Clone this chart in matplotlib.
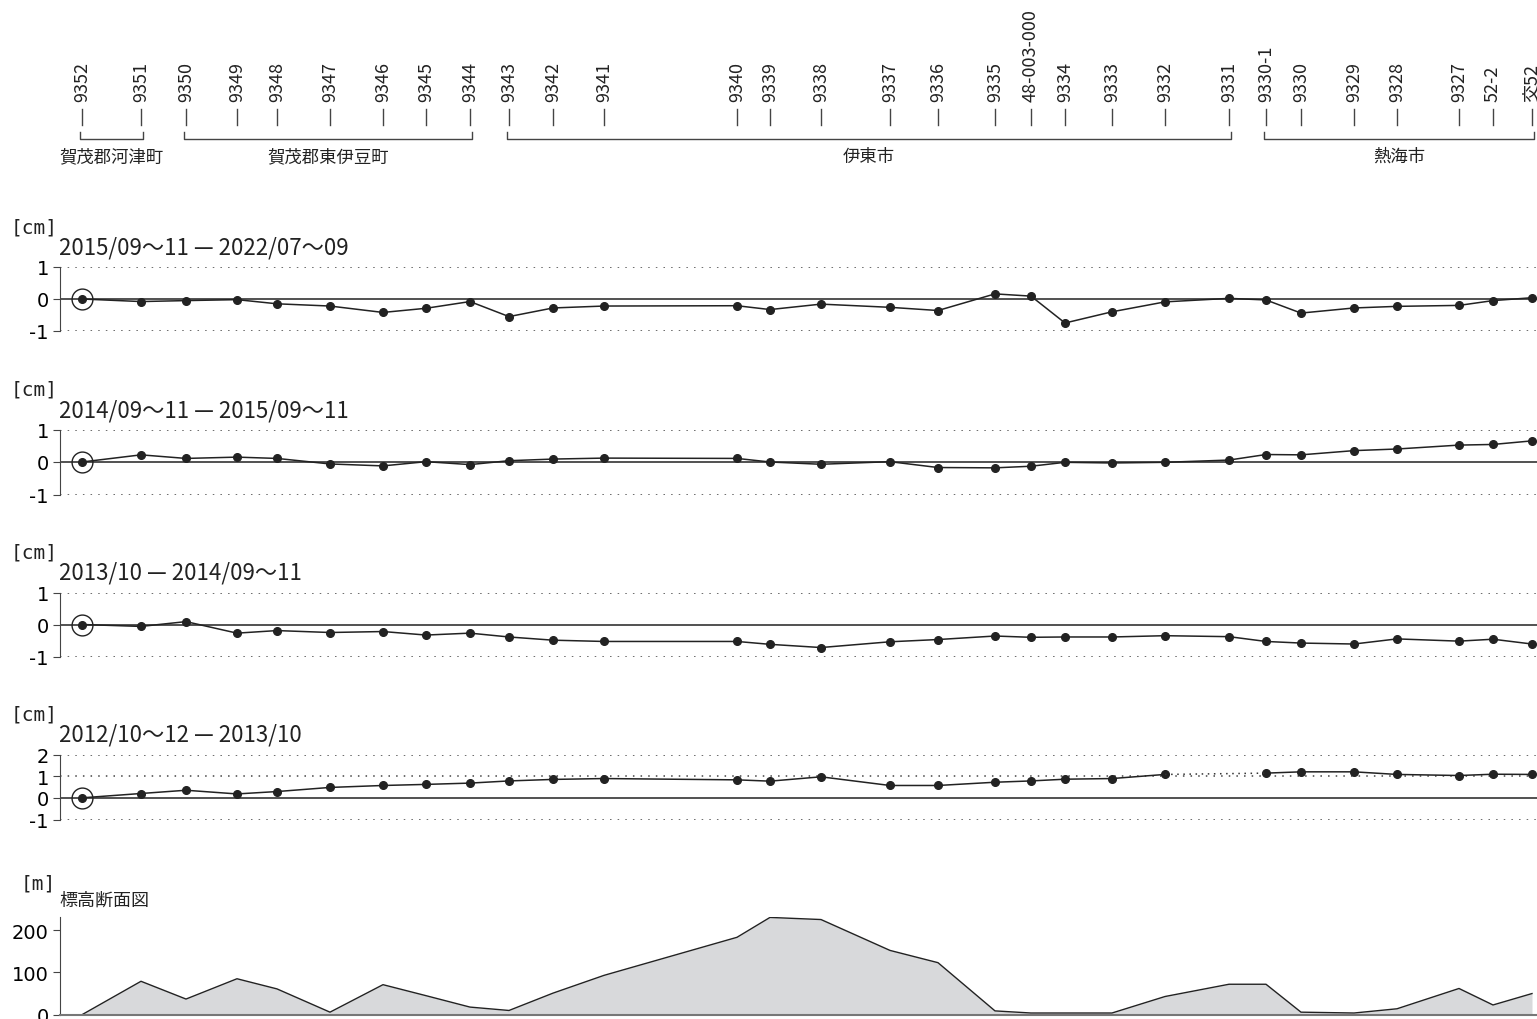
"""Leveling survey profile: vertical change along route with elevation profile."""
import numpy as np
import matplotlib
matplotlib.use("Agg")
import matplotlib.pyplot as plt

plt.rcParams["font.family"] = ["Noto Sans CJK JP", "DejaVu Sans"]

W, H = 1537, 1020

stations = [
    "9352", "9351", "9350", "9349", "9348", "9347", "9346", "9345", "9344",
    "9343", "9342", "9341", "9340", "9339", "9338", "9337", "9336", "9335",
    "48-003-000", "9334", "9333", "9332", "9331", "9330-1", "9330", "9329",
    "9328", "9327", "52-2", "交52",
]
# relative distance along the route
dist = [0, 59, 104, 155, 195, 248, 301, 344, 388, 427, 471, 522, 655, 688,
        739, 808, 856, 913, 949, 983, 1030, 1083, 1147, 1184, 1219, 1272,
        1315, 1377, 1411, 1450]

groups = [("賀茂郡河津町", 0, 1), ("賀茂郡東伊豆町", 2, 8),
          ("伊東市", 9, 22), ("熱海市", 23, 29)]

period_labels = [
    "2015/09～11 — 2022/07～09",
    "2014/09～11 — 2015/09～11",
    "2013/10 — 2014/09～11",
    "2012/10～12 — 2013/10",
]
change_a = [0, -0.08, -0.05, -0.02, -0.15, -0.22, -0.42, -0.29, -0.08, -0.55,
            -0.28, -0.22, -0.21, -0.33, -0.16, -0.26, -0.36, 0.16, 0.09,
            -0.75, -0.40, -0.09, 0.02, -0.03, -0.44, -0.28, -0.23, -0.20,
            -0.05, 0.04]
change_b = [0, 0.22, 0.11, 0.15, 0.11, -0.06, -0.12, 0.01, -0.08, 0.04, 0.09,
            0.12, 0.11, 0.0, -0.07, 0.01, -0.17, -0.18, -0.13, -0.01, -0.03,
            -0.01, 0.06, 0.23, 0.22, 0.35, 0.40, 0.52, 0.54, 0.65]
change_c = [0, -0.06, 0.09, -0.27, -0.19, -0.25, -0.22, -0.33, -0.27, -0.39,
            -0.49, -0.53, -0.53, -0.62, -0.72, -0.54, -0.47, -0.36, -0.40,
            -0.39, -0.39, -0.35, -0.38, -0.53, -0.58, -0.61, -0.45, -0.52,
            -0.46, -0.61]
change_d = [0, 0.20, 0.35, 0.18, 0.29, 0.48, 0.57, 0.62, 0.68, 0.78, 0.85,
            0.89, 0.83, 0.77, 0.97, 0.57, 0.57, 0.72, 0.78, 0.86, 0.89, 1.08,
            np.nan, 1.14, 1.20, 1.20, 1.08, 1.03, 1.09, 1.08]
changes = [change_a, change_b, change_c, change_d]
ylims = [(-1, 1), (-1, 1), (-1, 1), (-1, 2)]

elevation = [0, 79, 37, 85, 61, 6, 71, 45, 18, 10, 51, 93, 183, 230, 225, 152,
             123, 9, 4, 4, 4, 43, 72, 72, 6, 4, 14, 62, 23, 50]

XLIM = (-22, 1455)
LEFT, RIGHT = 60, 1537


def add_px_axes(fig, top, bottom):
    return fig.add_axes([LEFT / W, 1 - bottom / H, (RIGHT - LEFT) / W, (bottom - top) / H])


def fig_text(fig, x, y, s, **kw):
    return fig.text(x / W, 1 - y / H, s, **kw)


fig = plt.figure(figsize=(W / 100, H / 100), dpi=100)

# header: station names and municipality brackets
axh = add_px_axes(fig, 0, 170)
axh.set_xlim(*XLIM)
axh.set_ylim(170, 0)
axh.axis("off")
for name, d in zip(stations, dist):
    axh.plot([d, d], [110, 126], color="#444444", lw=1)
    axh.text(d, 102, name, rotation=90, ha="center", va="bottom", fontsize=13,
             color="#222222")
for name, i0, i1 in groups:
    d0, d1 = dist[i0] - 2, dist[i1] + 2
    axh.plot([d0, d0, d1, d1], [133, 140, 140, 133], color="#444444", lw=1)
    axh.text((d0 + d1) / 2, 157, name, ha="center", va="center", fontsize=12.5,
             color="#222222")

# change panels
panel_px = [(268, 332), (430.5, 495.5), (593.5, 657.5), (755.5, 820.5)]
for (top, bottom), vals, label, ylim in zip(panel_px, changes, period_labels, ylims):
    ax = add_px_axes(fig, top, bottom)
    ax.set_xlim(*XLIM)
    ax.set_ylim(*ylim)
    for s in ["top", "right", "bottom"]:
        ax.spines[s].set_visible(False)
    ax.spines["left"].set_color("#444444")
    ticks = list(range(ylim[0], ylim[1] + 1))
    ax.set_yticks(ticks)
    ax.set_yticklabels([str(t) for t in ticks], fontsize=14, family="DejaVu Sans")
    ax.tick_params(axis="y", length=5, color="#444444", pad=3)
    ax.set_xticks([])
    for t in ticks:
        if t == 0:
            ax.axhline(0, color="#222222", lw=1.1)
        else:
            ax.axhline(t, color="#444444", lw=1.1, ls=(0, (1, 4)))
    v = np.array(vals, dtype=float)
    d = np.array(dist, dtype=float)
    ax.plot(d, v, "-o", color="#222222", lw=1.1, ms=5.5, clip_on=False)
    # dotted bridge over missing stations
    for i in np.where(np.isnan(v))[0]:
        ax.plot([d[i - 1], d[i + 1]], [v[i - 1], v[i + 1]], color="#333333",
                lw=1.1, ls=(0, (1, 3)))
    ax.plot(d[0], v[0], "o", mfc="none", mec="#222222", ms=15, mew=1)
    fig_text(fig, 58, top - 40, "[cm]", ha="right", va="center", fontsize=14,
             family="DejaVu Sans Mono", color="#222222")
    fig_text(fig, 59, top - 20, label, ha="left", va="center", fontsize=16,
             color="#222222")

# elevation profile
axe = add_px_axes(fig, 918, 1015.7)
axe.set_xlim(*XLIM)
axe.set_ylim(0, 231)
axe.fill_between(dist, elevation, 0, color="#d8d9db", lw=0)
axe.plot(dist, elevation, color="#222222", lw=1)
for s in ["top", "right"]:
    axe.spines[s].set_visible(False)
axe.spines["left"].set_color("#444444")
axe.spines["bottom"].set_color("#777777")
axe.spines["bottom"].set_linewidth(1.5)
axe.set_xticks([])
axe.set_yticks([0, 100, 200])
axe.set_yticklabels(["0", "100", "200"], fontsize=14, family="DejaVu Sans")
axe.tick_params(axis="y", length=5, color="#444444", pad=3)
fig_text(fig, 56, 884, "[m]", ha="right", va="center", fontsize=14,
         family="DejaVu Sans Mono", color="#222222")
fig_text(fig, 59, 901, "標高断面図", ha="left", va="center", fontsize=13,
         color="#222222")

fig.savefig("out.png", dpi=100)
